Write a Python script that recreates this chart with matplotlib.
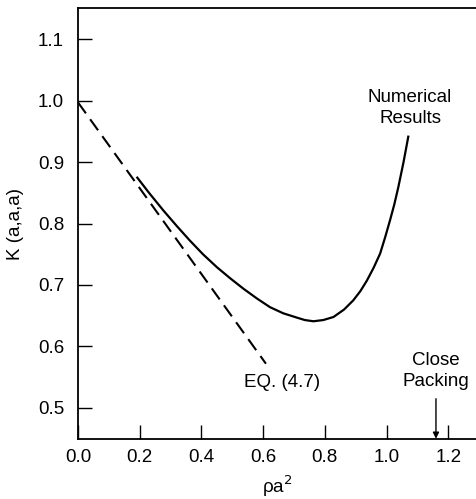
import matplotlib
matplotlib.use("Agg")
import matplotlib.pyplot as plt

plt.rcParams['font.family'] = ['Liberation Sans', 'DejaVu Sans']

# Numerical results curve
num_x = [0.190, 0.230, 0.277, 0.320, 0.363, 0.405, 0.450, 0.493, 0.536, 0.580,
         0.622, 0.665, 0.709, 0.735, 0.763, 0.795, 0.828, 0.862, 0.892, 0.915,
         0.936, 0.958, 0.979, 0.995, 1.011, 1.025, 1.038, 1.055, 1.071]
num_y = [0.876, 0.850, 0.821, 0.796, 0.772, 0.750, 0.729, 0.711, 0.694, 0.678,
         0.664, 0.654, 0.647, 0.643, 0.641, 0.643, 0.648, 0.660, 0.675, 0.690,
         0.707, 0.728, 0.751, 0.777, 0.805, 0.831, 0.859, 0.900, 0.943]

# EQ. (4.7) straight line
eq_x = [0.0, 0.609]
eq_y = [0.997, 0.572]

x_ticks = [0.0, 0.2, 0.4, 0.6, 0.8, 1.0, 1.2]
y_ticks = [0.5, 0.6, 0.7, 0.8, 0.9, 1.0, 1.1]
close_packing = 1.16

FS = 13.5

fig = plt.figure(figsize=(4.77, 4.99), dpi=100)
ax = fig.add_axes([0.1635, 0.1208, 0.8365, 0.8626])

ax.plot(num_x, num_y, color='black', lw=1.6, solid_capstyle='butt')
ax.plot(eq_x, eq_y, color='black', lw=1.5, dashes=(6.5, 3.5))

ax.set_xlim(0, 1.293)
ax.set_ylim(0.45, 1.15)
ax.set_xticks(x_ticks)
ax.set_yticks(y_ticks)
ax.set_xticklabels([f"{v:.1f}" for v in x_ticks])
ax.set_yticklabels([f"{v:.1f}" for v in y_ticks])
ax.tick_params(direction='in', length=10, width=1.0, labelsize=FS)
ax.tick_params(axis='y', pad=10)
ax.tick_params(axis='x', pad=7.5)
ax.spines['right'].set_visible(False)
for s in ['left', 'bottom', 'top']:
    ax.spines[s].set_linewidth(1.3)

ax.set_xlabel(r"ρa$^2$", fontsize=FS, labelpad=5)
ax.set_ylabel("K (a,a,a)", fontsize=FS, labelpad=10)

ax.text(1.076, 0.988, "Numerical\nResults", ha='center', va='center',
        fontsize=FS, linespacing=1.25)
ax.text(0.660, 0.542, "EQ. (4.7)", ha='center', va='center', fontsize=FS)
ax.text(close_packing, 0.560, "Close\nPacking", ha='center', va='center',
        fontsize=FS, linespacing=1.25)
ax.annotate("", xy=(close_packing, 0.45), xytext=(close_packing, 0.515),
            arrowprops=dict(arrowstyle='-|>', color='black', lw=1.0,
                            mutation_scale=9, shrinkA=0, shrinkB=0))

fig.savefig("out.png", dpi=100)
